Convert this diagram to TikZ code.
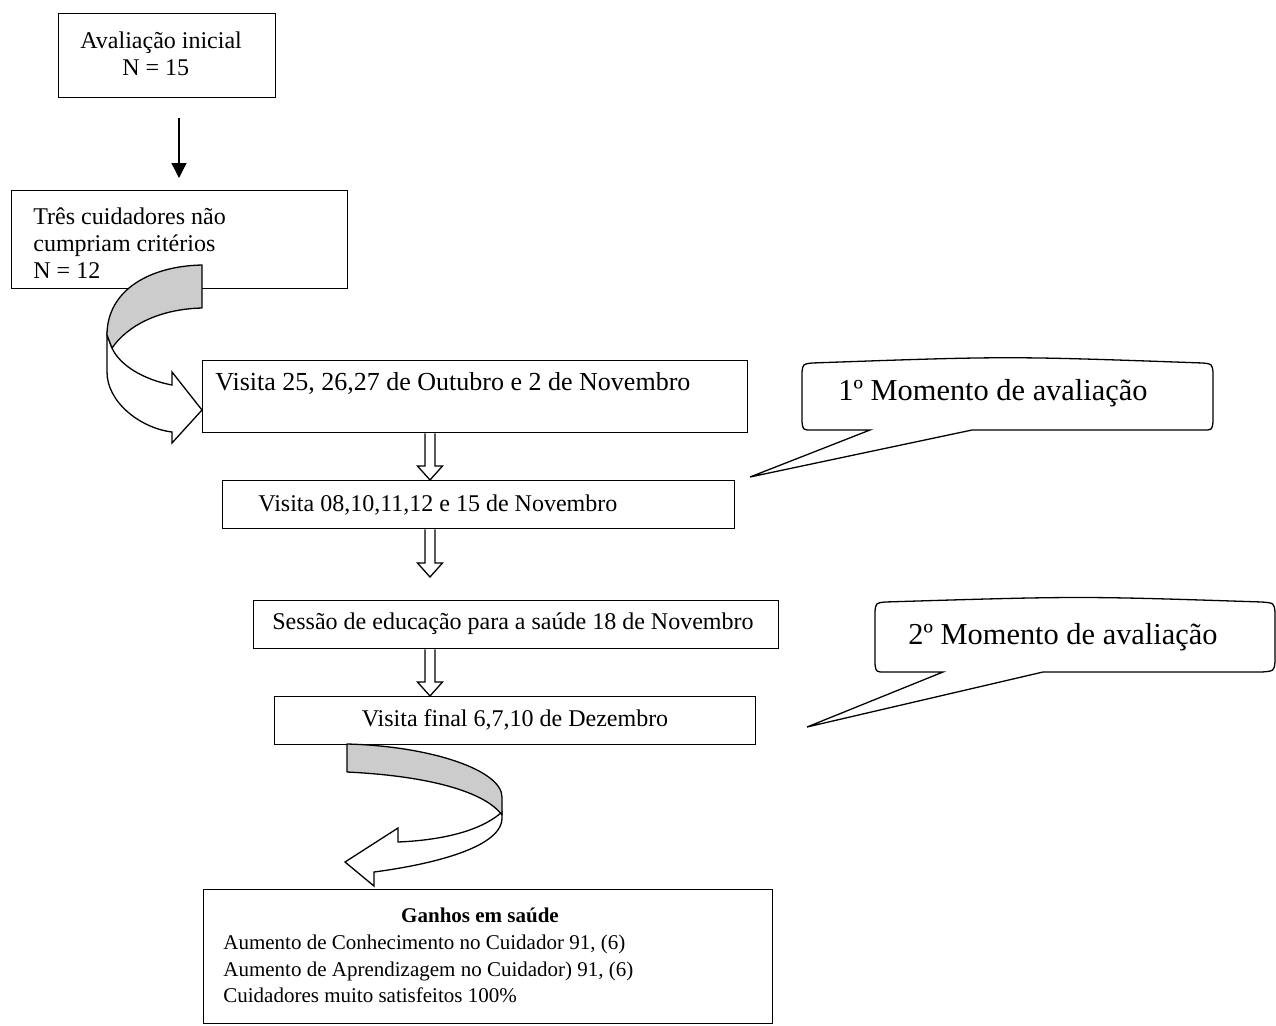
\documentclass[tikz,border=0pt]{standalone}
\usepackage{fontspec}
\setmainfont{Liberation Serif}
\usetikzlibrary{arrows.meta,calc}
\newcommand\blockdown[2]{%
  \draw[line width=0.65pt] ($(#1)+(-5,0)$) -- ($(#2)+(-5,-14)$) -- ($(#2)+(-12.5,-14)$) -- (#2)
    -- ($(#2)+(12.5,-14)$) -- ($(#2)+(5,-14)$) -- ($(#1)+(5,0)$);}
\begin{document}
\begin{tikzpicture}[x=0.5pt,y=-0.5pt,
  box/.style={draw, line width=0.65pt, inner sep=0pt, anchor=north west},
  txt/.style={inner sep=0pt, font=\fontsize{12pt}{13.5pt}\selectfont},
  big/.style={inner sep=0pt, font=\fontsize{15.2pt}{18pt}\selectfont},
  small/.style={inner sep=0pt, font=\fontsize{10.5pt}{13.2pt}\selectfont},
  shade/.style={draw, line width=0.65pt, fill=black!20, line join=round},
  blank/.style={draw, line width=0.65pt, fill=white, line join=miter},
  callout/.style={draw, line width=0.65pt, fill=white}]
\useasboundingbox (0,0) rectangle (1276,1025);

% boxes
\node[box, minimum width=108.5pt, minimum height=42pt] (b1) at (58,13) {};
\node[box, minimum width=168pt, minimum height=49pt] (b2) at (11,190) {};
\node[box, minimum width=272.5pt, minimum height=36pt] (b3) at (202,360) {};
\node[box, minimum width=256pt, minimum height=24pt] (b4) at (222,480) {};
\node[box, minimum width=262.5pt, minimum height=24pt] (b5) at (253,600) {};
\node[box, minimum width=240.5pt, minimum height=24pt] (b6) at (274,696) {};
\node[box, minimum width=284.5pt, minimum height=67pt] (b7) at (203,889) {};

% texts
\node[txt, anchor=west, align=left] (t1) at (80,53.5) {Avaliação inicial\\\hspace*{21pt}N = 15};
\node[txt, anchor=west, align=left] (t2) at (33,243) {Três cuidadores não\\cumpriam critérios\\N = 12};
\node[txt, font=\fontsize{13pt}{15pt}\selectfont, anchor=west] (t3) at (215,383) {Visita 25, 26,27 de Outubro e 2 de Novembro};
\node[txt, anchor=west] (t4) at (258,505) {Visita 08,10,11,12 e 15 de Novembro};
\node[txt, anchor=west] (t5) at (272,624) {Sessão de educação para a saúde 18 de Novembro};
\node[txt] (t6) at (515,720) {Visita final 6,7,10 de Dezembro};
\node[small, font=\bfseries\fontsize{10.5pt}{13pt}\selectfont] (g1) at (480,915) {Ganhos em saúde};
\node[small, anchor=west, align=left] (g2) at (223,969) {Aumento de Conhecimento no Cuidador 91, (6)\\Aumento de Aprendizagem no Cuidador) 91, (6)\\Cuidadores muito satisfeitos 100\%};

% simple arrow
\coordinate (ax1) at (179,0);
\draw[line width=0.65pt, -{Triangle[length=7.5pt,width=7.5pt]}] ($(b1.south -| ax1)+(0,20)$) -- ($(b2.north -| ax1)+(0,-12)$);

% hollow block arrows
\coordinate (ax2) at (430,0);
\coordinate (p1) at (b3.south -| ax2);
\coordinate (q1) at (b4.north -| ax2);
\coordinate (p2) at (b4.south -| ax2);
\coordinate (q2) at ($(b5.north -| ax2)+(0,-23)$);
\coordinate (p3) at (b5.south -| ax2);
\coordinate (q3) at (b6.north -| ax2);
\blockdown{p1}{q1}
\blockdown{p2}{q2}
\blockdown{p3}{q3}

% upper curved arrow
\draw[blank] (107,335) -- (107,372) .. controls (107,402) and (140,428) .. (172,432) -- (172,443) -- (202,410) -- (172,372) -- (172,385) .. controls (145,380) and (120,366) .. (112,348) -- cycle;
\draw[shade] (202,265) .. controls (150,266) and (107,290) .. (107,335) -- (112,348) .. controls (128,325) and (160,309) .. (202,308) -- cycle;

% lower curved arrow
\draw[blank] (502,812) .. controls (482,830) and (445,840) .. (398,842) -- (398,828) -- (345,862) -- (374,886) -- (374,872) .. controls (420,866) and (502,850) .. (502,818) -- cycle;
\draw[shade] (347,744) .. controls (430,746) and (502,770) .. (502,797) -- (502,815) .. controls (485,792) and (430,776) .. (347,772) -- cycle;

% callouts
\draw[callout] (870,430) -- (812,430) .. controls (803,430) .. (802,422) -- (802,372) .. controls (803,364) .. (812,363) .. controls (1008,356) .. (1203,363) .. controls (1212,364) .. (1213,372) -- (1213,422) .. controls (1212,430) .. (1203,430) -- (972,430) -- (750,477) -- cycle;
\node[big, anchor=west] (c1) at (838,393) {1º Momento de avaliação};

\draw[callout] (943,672) -- (885,672) .. controls (876,672) .. (875,664) -- (875,611) .. controls (876,603) .. (885,602) .. controls (1080,596) .. (1262,602) .. controls (1274,603) .. (1275,612) -- (1275,662) .. controls (1274,671) .. (1262,672) -- (1043,672) -- (807,727) -- cycle;
\node[big, anchor=west] (c2) at (908,637) {2º Momento de avaliação};
\end{tikzpicture}
\end{document}
